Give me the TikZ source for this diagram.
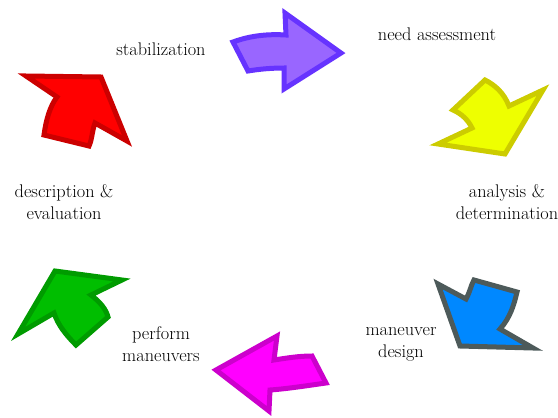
\documentclass[tikz,border=0pt]{standalone}
\definecolor{pfill}{RGB}{153,102,255}\definecolor{pline}{RGB}{102,51,255}
\definecolor{yfill}{RGB}{238,255,0}\definecolor{yline}{RGB}{204,204,0}
\definecolor{bfill}{RGB}{0,136,255}\definecolor{bline}{RGB}{77,90,90}
\definecolor{mfill}{RGB}{255,0,255}\definecolor{mline}{RGB}{204,0,204}
\definecolor{gfill}{RGB}{0,190,0}\definecolor{gline}{RGB}{0,155,0}
\definecolor{rfill}{RGB}{255,0,0}\definecolor{rline}{RGB}{204,0,0}
\begin{document}
\begin{tikzpicture}[x=1pt,y=-1pt,
  arr/.style={line width=5pt,line join=miter,miter limit=10},
  lbl/.style={align=center,inner sep=0pt,font=\fontsize{18.3}{22}\selectfont}]
\useasboundingbox (0,0) rectangle (558,418);
% purple
\draw[arr,draw=pline,fill=pfill] (233,42) .. controls (252,35) and (270,34) .. (286,35) -- (285,13) -- (341,53) -- (284,89) -- (284,68) .. controls (272,68) and (260,69) .. (248,71) -- cycle;
% yellow
\draw[arr,draw=yline,fill=yfill] (453,110) -- (485,80) .. controls (495,85) and (504,93) .. (509,106) -- (543,90) -- (505,154) -- (438,144) -- (472,128) .. controls (468,120) and (462,114) .. cycle;
% blue
\draw[arr,draw=bline,fill=bfill] (438,284) -- (466,299) .. controls (470,292) and (471,285) .. (474,280) -- (517,292) .. controls (514,305) and (510,318) .. (500,329) -- (533,348) -- (460,346) -- cycle;
% magenta
\draw[arr,draw=mline,fill=mfill] (216,370) -- (277,336) -- (274,360) .. controls (287,358) and (299,356) .. (312,356) -- (326,383) .. controls (305,386) and (285,389) .. (270,390) -- (269,411) -- cycle;
% green
\draw[arr,draw=gline,fill=gfill] (55,271) -- (122,280) -- (91,295) .. controls (100,302) and (106,309) .. (108,317) -- (76,345) .. controls (66,335) and (58,325) .. (54,313) -- (18,334) -- cycle;
% red
\draw[arr,draw=rline,fill=rfill] (26,76) -- (101,77) -- (127,141) -- (95,123) .. controls (92,131) and (92,140) .. (89,146) -- (44,135) .. controls (46,120) and (50,106) .. (57,97) -- cycle;
% labels
\node[lbl] (stab) at (161,49) {stabilization};
\node[lbl] (need) at (437,34) {need assessment};
\node[lbl] (anal) at (507,202) {analysis \&\\determination};
\node[lbl] (mand) at (401,344) {maneuver\\design};
\node[lbl] (perf) at (161,344) {perform\\maneuvers};
\node[lbl] (desc) at (64,202) {description \&\\evaluation};
\end{tikzpicture}
\end{document}
